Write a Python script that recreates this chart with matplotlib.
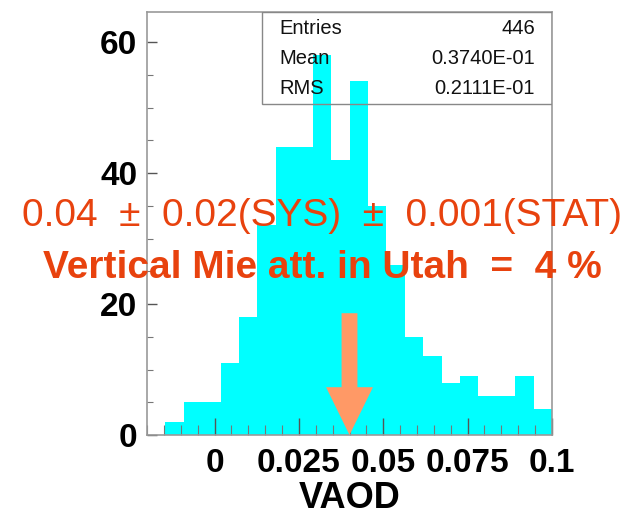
import numpy as np
import matplotlib
matplotlib.use("Agg")
import matplotlib.pyplot as plt
from matplotlib.patches import Rectangle
from matplotlib.ticker import FixedLocator, FixedFormatter, MultipleLocator

# histogram of VAOD: 22 bins between -0.02 and 0.1
x_lo, x_hi, n_bins = -0.02, 0.1, 22
counts = [0, 2, 5, 5, 11, 18, 32, 44, 44, 58, 42, 54, 35, 26, 15, 12, 8, 9, 6, 6, 9, 4]

x_ticks = [0, 0.025, 0.05, 0.075, 0.1]
x_tick_labels = ["0", "0.025", "0.05", "0.075", "0.1"]
y_ticks = [0, 20, 40, 60]

stats_names = ["Entries", "Mean", "RMS"]
stats_values = ["446", "0.3740E-01", "0.2111E-01"]

result_value = 0.04  # arrow position
line1 = "0.04  \u00b1  0.02(SYS)  \u00b1  0.001(STAT)"
line2 = "Vertical Mie att. in Utah  =  4 %"

red = "#e8420e"
sans = ["Liberation Sans", "DejaVu Sans"]

fig = plt.figure(figsize=(6.41, 5.15), dpi=100)
ax = fig.add_axes([147 / 641, 1 - 435 / 515, 405 / 641, 423 / 515])

edges = np.linspace(x_lo, x_hi, n_bins + 1)
ax.stairs(counts, edges, fill=True, color="#00ffff", zorder=1)

ax.set_xlim(x_lo, x_hi)
ax.set_ylim(0, 64.6)

# ROOT style ticks
ax.xaxis.set_major_locator(FixedLocator(x_ticks))
ax.xaxis.set_major_formatter(FixedFormatter(x_tick_labels))
ax.xaxis.set_minor_locator(MultipleLocator(0.005))
ax.yaxis.set_major_locator(FixedLocator(y_ticks))
ax.yaxis.set_minor_locator(MultipleLocator(5))
ax.tick_params(axis="x", which="major", direction="in", length=12, width=1.0,
               color="#555555", pad=9)
ax.tick_params(axis="x", which="minor", direction="in", length=7, width=0.8,
               color="#777777")
ax.tick_params(axis="y", which="major", direction="in", length=7, width=1.0,
               color="#555555", pad=7)
ax.tick_params(axis="y", which="minor", direction="in", length=4, width=0.8,
               color="#777777")
for lab in ax.get_xticklabels() + ax.get_yticklabels():
    lab.set_fontfamily(sans)
    lab.set_fontweight("bold")
    lab.set_fontsize(24)

for sp in ax.spines.values():
    sp.set_color("#999999")
    sp.set_linewidth(1.2)

ax.set_xlabel("VAOD", fontsize=26, fontweight="bold", family=sans, labelpad=2)

# stats box
ax.add_patch(Rectangle((0.284, 0.7825), 0.716, 0.2175, transform=ax.transAxes,
                       fill=False, edgecolor="#888888", linewidth=1.0, zorder=4))
rows_y = [0.962, 0.891, 0.820]
for name, val, yy in zip(stats_names, stats_values, rows_y):
    ax.text(0.326, yy, name, transform=ax.transAxes, fontsize=14.5, family=sans,
            color="#111111", va="center", ha="left", zorder=5)
    ax.text(0.958, yy, val, transform=ax.transAxes, fontsize=14.5, family=sans,
            color="#111111", va="center", ha="right", zorder=5)

# arrow marking the result
ax.arrow(result_value, 18.6, 0, -18.6, width=0.0047, head_width=0.0139,
         head_length=7.3, length_includes_head=True, color="#ff9966",
         linewidth=0, zorder=3)

fig.text(322 / 641, 1 - 226 / 515, line1, color=red, fontsize=28, family=sans,
         ha="center", va="baseline")
fig.text(322 / 641, 1 - 278 / 515, line2, color=red, fontsize=28, family=sans,
         fontweight="bold", ha="center", va="baseline")

fig.savefig("out.png", dpi=100)
